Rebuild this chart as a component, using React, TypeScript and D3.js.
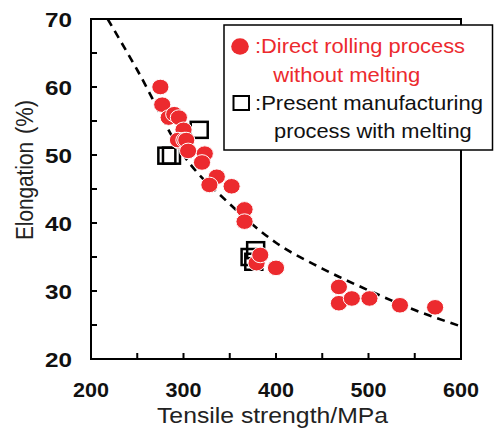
import * as d3 from "d3"

// tensile strength (MPa) / elongation (%)
const directTS = [275, 277, 284, 290, 295, 300, 296, 294, 301, 303, 305, 323, 320, 336, 328, 352, 366, 366, 379, 383, 400, 468, 468, 482, 501, 534, 572]
const directEl = [60.0, 57.4, 55.5, 56.0, 55.5, 53.7, 52.0, 52.2, 52.2, 52.2, 50.6, 50.2, 48.9, 46.8, 45.6, 45.4, 42.0, 40.2, 34.1, 35.3, 33.4, 30.6, 28.2, 28.9, 28.9, 27.9, 27.6]

const presentTS = [282, 287, 317, 378, 372, 376]
const presentEl = [49.9, 49.9, 53.7, 36.0, 35.0, 34.3]

// dashed trend curve
const trendTS = [218, 250, 300, 350, 400, 450, 500, 550, 600]
const trendEl = [70, 62.5, 50, 42.8, 37.1, 33.3, 30.1, 27.2, 24.8]

const xTicks = [200, 250, 300, 350, 400, 450, 500, 550, 600]
const xLabels = [200, 300, 400, 500, 600]
const yTicks = [20, 25, 30, 35, 40, 45, 50, 55, 60, 65, 70]
const yLabels = [20, 30, 40, 50, 60, 70]

const RED = "#ec2a2e"
const FONT = "'Liberation Sans', Arial, sans-serif"

const App = () => {
    const x = d3.scaleLinear().domain([200, 600]).range([91, 461])
    const y = d3.scaleLinear().domain([20, 70]).range([359, 19])

    const trend = d3
        .line<number>()
        .x(d => x(d))
        .y((d, i) => y(trendEl[i]))
        .curve(d3.curveMonotoneX)

    return (
        <svg width={494} height={430} style={{ position: "absolute", left: 0, top: 0, background: "#fff" }}>
            <defs>
                <clipPath id="plot">
                    <rect x={91} y={19} width={370} height={340} />
                </clipPath>
            </defs>

            {/* trend line */}
            <path d={trend(trendTS) || ""} fill="none" stroke="#000" strokeWidth={2.6}
                strokeDasharray="8,6" clipPath="url(#plot)" />

            {/* present process squares */}
            {presentTS.map((t, i) => (
                <rect key={"s" + i} x={x(t) - 8.5} y={y(presentEl[i]) - 8} width={17} height={16}
                    fill="none" stroke="#000" strokeWidth={2.5} />
            ))}

            {/* direct rolling circles */}
            {directTS.map((t, i) => (
                <ellipse key={"c" + i} cx={x(t)} cy={y(directEl[i])} rx={8.6} ry={7.8}
                    fill={RED} stroke="#fff" strokeWidth={1} />
            ))}

            {/* frame */}
            <rect x={91} y={19} width={370} height={340} fill="none" stroke="#000" strokeWidth={2} />
            {xTicks.map(t => (
                <line key={"xt" + t} x1={x(t)} x2={x(t)} y1={359} y2={353} stroke="#000" strokeWidth={2} />
            ))}
            {yTicks.map(t => (
                <line key={"yt" + t} x1={91} x2={97} y1={y(t)} y2={y(t)} stroke="#000" strokeWidth={2} />
            ))}

            {xLabels.map(t => (
                <text key={"xl" + t} x={x(t)} y={397} textAnchor="middle" fontFamily={FONT}
                    fontWeight="bold" fontSize={21} textLength={36} lengthAdjust="spacingAndGlyphs" fill="#111">{t}</text>
            ))}
            {yLabels.map(t => (
                <text key={"yl" + t} x={72} y={y(t) + 7.5} textAnchor="end" fontFamily={FONT}
                    fontWeight="bold" fontSize={21} textLength={27} lengthAdjust="spacingAndGlyphs" fill="#111">{t}</text>
            ))}

            <text x={157} y={423} fontFamily={FONT} fontSize={22} textLength={231}
                lengthAdjust="spacingAndGlyphs" fill="#222">Tensile strength/MPa</text>
            <g transform="translate(33,0) scale(1.15,1) rotate(-90)">
                <text x={-240} y={0} fontFamily={FONT} fontSize={21} textLength={98}
                    lengthAdjust="spacingAndGlyphs" fill="#222">Elongation</text>
                <text x={-134} y={0} fontFamily={FONT} fontSize={21} textLength={34}
                    lengthAdjust="spacingAndGlyphs" fill="#222">(%)</text>
            </g>

            {/* legend */}
            <rect x={224} y={25} width={268.5} height={125} fill="#fff" stroke="#000" strokeWidth={1.5} />
            <ellipse cx={240} cy={46.5} rx={8.8} ry={8.3} fill={RED} />
            <text x={255} y={53.3} fontFamily={FONT} fontSize={21} textLength={210}
                lengthAdjust="spacingAndGlyphs" fill={RED}>:Direct rolling process</text>
            <text x={273.3} y={81.7} fontFamily={FONT} fontSize={21} textLength={147}
                lengthAdjust="spacingAndGlyphs" fill={RED}>without melting</text>
            <rect x={233.5} y={96} width={15.5} height={14} fill="none" stroke="#000" strokeWidth={2} />
            <text x={255} y={110} fontFamily={FONT} fontSize={21} textLength={228}
                lengthAdjust="spacingAndGlyphs" fill="#111">:Present manufacturing</text>
            <text x={274} y={137.5} fontFamily={FONT} fontSize={21} textLength={197.7}
                lengthAdjust="spacingAndGlyphs" fill="#111">process with melting</text>
        </svg>
    )
}

export default App
